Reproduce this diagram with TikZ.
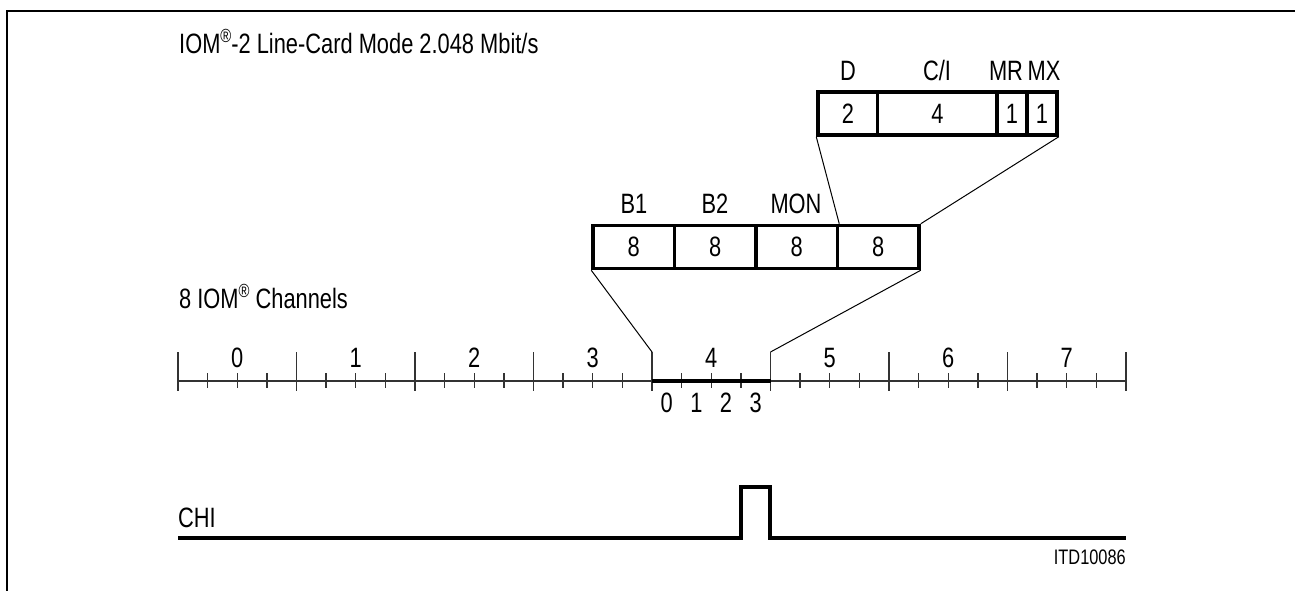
\documentclass[tikz,border=0pt]{standalone}
\usepackage{fontspec}
\setmainfont{Liberation Sans}[FakeStretch=0.78]
\newcommand{\regmark}{\raisebox{0.36em}{\fontsize{19}{19}\selectfont ®}}
\begin{document}
\begin{tikzpicture}[x=1pt,y=-1pt,
  lbl/.style={inner sep=0pt, anchor=base, font=\fontsize{28}{32}\selectfont},
  cell/.style={draw, line width=3.5pt, inner sep=0pt, minimum height=43pt, font=\fontsize{28}{32}\selectfont},
  thinline/.style={line width=1pt},
  axis/.style={line width=1.3pt, black!80},
  sig/.style={line width=3.8pt}]
\useasboundingbox (0,0) rectangle (1295,590);
% frame
\draw[line width=2pt] (7,591) -- (7,11) -- (1296,11);
% title
\node[lbl, anchor=base west] (title) at (179,53) {IOM\regmark-2 Line-Card Mode 2.048 Mbit/s};
% top box
\node[cell, minimum width=59.7pt]  (cd)  at (847.85,113.5) {2};
\node[cell, minimum width=119.3pt] (cci) at (937.35,113.5) {4};
\node[cell, minimum width=30pt]    (cmr) at (1012,113.5) {1};
\node[cell, minimum width=30pt]    (cmx) at (1042,113.5) {1};
\node[lbl] (ld)  at (848,80) {D};
\node[lbl] (lci) at (937,80) {C/I};
\node[lbl] (lmr) at (1006,80) {MR};
\node[lbl] (lmx) at (1044,80) {MX};
% middle box
\node[cell, minimum width=81.5pt] (cb1)  at (633.75,247) {8};
\node[cell, minimum width=81.5pt] (cb2)  at (715.25,247) {8};
\node[cell, minimum width=81.5pt] (cmon) at (796.75,247) {8};
\node[cell, minimum width=81.5pt] (c4)   at (878.25,247) {8};
\node[lbl] (lb1)  at (634,213) {B1};
\node[lbl] (lb2)  at (715,213) {B2};
\node[lbl] (lmon) at (796,213) {MON};
% channels label
\node[lbl, anchor=base west] (chan) at (179,308) {8 IOM\regmark\ Channels};
% timeline
\draw[axis] (178,381) -- (1126,381);
\foreach \k in {0,...,8} \draw[axis] ({178+118.5*\k},352) -- ({178+118.5*\k},391);
\foreach \k in {0,...,7} \foreach \q in {1,2,3} \draw[axis] ({178+118.5*\k+29.625*\q},373) -- ++(0,15);
\draw[line width=3.8pt] (652,381) -- (770.5,381);
\coordinate (s4) at (652,352);
\coordinate (e4) at (770.5,352);
\foreach \k in {0,...,7} \node[lbl] (ch\k) at ({237.25+118.5*\k},367) {\k};
\foreach \k in {0,...,3} \node[lbl] (bit\k) at ({666.8+29.625*\k},412) {\k};
% connectors
\draw[thinline] (cd.south west) -- (cmon.north east);
\draw[thinline] (cmx.south east) -- (c4.north east);
\draw[thinline] (cb1.south west) -- (s4);
\draw[thinline] (c4.south east) -- (e4);
% CHI
\node[lbl, anchor=base west] (chi) at (178,527) {CHI};
\draw[sig] (178,538) -- (741,538) -- (741,487) -- (770,487) -- (770,538) -- (1126,538);
\node[inner sep=0pt, anchor=base east, font=\fontsize{21}{23}\selectfont] (itd) at (1126,564) {ITD10086};
\end{tikzpicture}
\end{document}
